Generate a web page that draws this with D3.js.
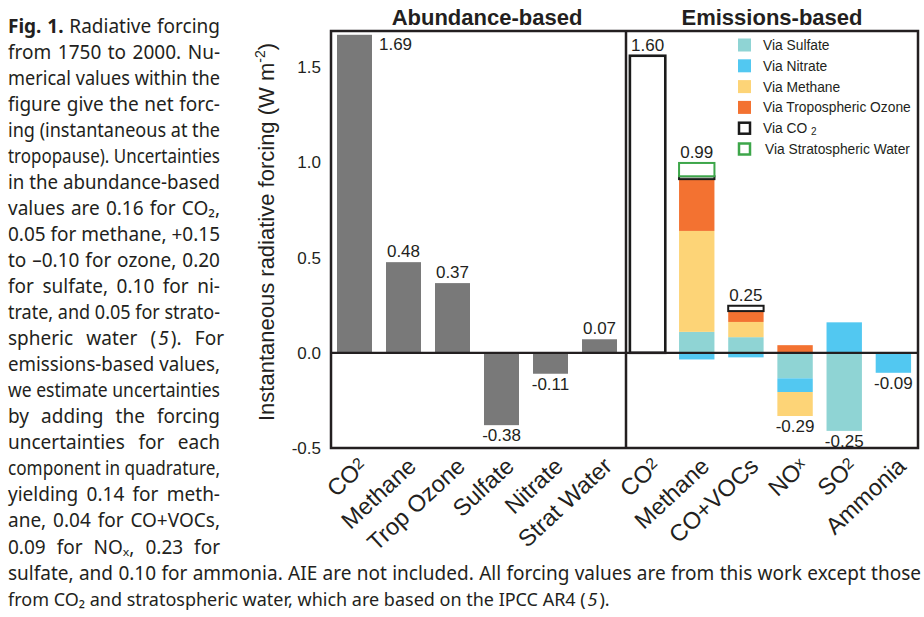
<!DOCTYPE html>
<html>
<head>
<meta charset="utf-8">
<script src="https://cdn.jsdelivr.net/npm/d3@7"></script>
<style>
    body{margin:0;background:#fff;}
    svg{display:block;}
</style>
</head>
<body>
<script>
(function(){

    //abundance-based forcing (W m-2)
    var abundCats = ["CO2", "Methane", "Trop Ozone", "Sulfate", "Nitrate", "Strat Water"];
    var abundValues = [1.67, 0.476, 0.366, -0.38, -0.11, 0.071];
    var abundLabels = ["1.69", "0.48", "0.37", "-0.38", "-0.11", "0.07"];

    //emissions-based forcing, one array per pathway
    var emitCats = ["CO2", "Methane", "CO+VOCs", "NOx", "SO2", "Ammonia"];
    var viaSulfate = [0, 0.11, 0.082, -0.134, -0.41, 0];
    var viaNitrate = [0, -0.035, -0.024, -0.072, 0.16, -0.105];
    var viaMethane = [0, 0.53, 0.08, -0.126, 0, 0];
    var viaOzone = [0, 0.272, 0.057, 0.04, 0, 0];
    var viaCO2 = [1.56, 0.015, 0.028, 0, 0, 0];
    var viaStratWater = [0, 0.07, 0, 0, 0, 0];
    var emitLabels = ["1.60", "0.99", "0.25", "-0.29", "-0.25", "-0.09"];

    var yTicks = [-0.5, 0, 0.5, 1.0, 1.5];

    //legend entries
    var seriesKeys = ["sulfate", "nitrate", "methane", "ozone", "co2", "water"];
    var seriesNames = ["Via Sulfate", "Via Nitrate", "Via Methane", "Via Tropospheric Ozone", "Via CO2", "Via Stratospheric Water"];
    var seriesFill = ["#8fd4d4", "#52c8f1", "#fdd477", "#f37231", "#ffffff", "#ffffff"];
    var seriesStroke = [null, null, null, null, "#1a1a1a", "#3da64a"];

    //caption text, *bold*, _italic_
    var captionLines = [
        "*Fig. 1.* Radiative forcing",
        "from 1750 to 2000. Nu-",
        "merical values within the",
        "figure give the net forc-",
        "ing (instantaneous at the",
        "tropopause). Uncertainties",
        "in the abundance-based",
        "values are 0.16 for CO\u2082,",
        "0.05 for methane, +0.15",
        "to \u20130.10 for ozone, 0.20",
        "for sulfate, 0.10 for ni-",
        "trate, and 0.05 for strato-",
        "spheric water (_5_). For",
        "emissions-based values,",
        "we estimate uncertainties",
        "by adding the forcing",
        "uncertainties for each",
        "component in quadrature,",
        "yielding 0.14 for meth-",
        "ane, 0.04 for CO+VOCs,",
        "0.09 for NO\u2093, 0.23 for",
        "sulfate, and 0.10 for ammonia. AIE are not included. All forcing values are from this work except those",
        "from CO\u2082 and stratospheric water, which are based on the IPCC AR4 (_5_)."
    ];

window.onload = setChart;

function setChart(){

    var width = 924,
        height = 617;

    var svg = d3.select("body")
        .append("svg")
        .attr("width", width)
        .attr("height", height);

    //plot frame
    var left = 331, mid = 626, right = 918, top = 31, bottom = 448;

    var y = d3.scaleLinear()
        .domain([-0.5, 1.69])
        .range([bottom, top]);

    var xA = d3.scaleBand()
        .domain(abundCats)
        .range([left, mid])
        .paddingInner(0.286)
        .paddingOuter(0.153)
        .align(0.4);

    var xE = d3.scaleBand()
        .domain(emitCats)
        .range([mid, right])
        .paddingInner(0.28)
        .paddingOuter(0.11)
        .align(0.36);

    var numFont = "'Liberation Sans', Arial, Helvetica, sans-serif";
    var ink = "#231f20";

    //abundance bars
    svg.append("g")
        .selectAll("rect")
        .data(abundValues)
        .enter()
        .append("rect")
        .attr("x", function(d, i){ return xA(abundCats[i]); })
        .attr("y", function(d){ return y(Math.max(0, d)); })
        .attr("width", xA.bandwidth())
        .attr("height", function(d){ return Math.abs(y(d) - y(0)); })
        .style("fill", "#797979");

    //abundance value labels (a bar that reaches the frame gets its label beside it)
    function besideTop(d){ return d > 0 && y(d) - 18 < top; }

    svg.append("g")
        .selectAll("text")
        .data(abundValues)
        .enter()
        .append("text")
        .attr("x", function(d, i){
            var x0 = xA(abundCats[i]);
            return besideTop(d) ? x0 + xA.bandwidth() + 7 : x0 + xA.bandwidth() / 2;
        })
        .attr("y", function(d){
            if (besideTop(d)) return y(d) + 15;
            return d >= 0 ? y(d) - 5 : y(d) + 16;
        })
        .attr("text-anchor", function(d){ return besideTop(d) ? "start" : "middle"; })
        .style("font-family", numFont)
        .style("font-size", "17px")
        .style("fill", ink)
        .text(function(d, i){ return abundLabels[i]; });

    //emissions bars, stacked by pathway
    var rows = emitCats.map(function(c, i){
        return {cat: c, sulfate: viaSulfate[i], nitrate: viaNitrate[i], methane: viaMethane[i],
                ozone: viaOzone[i], co2: viaCO2[i], water: viaStratWater[i]};
    });

    var stacked = d3.stack()
        .keys(seriesKeys)
        .offset(d3.stackOffsetDiverging)(rows);

    var layers = svg.append("g")
        .selectAll("g")
        .data(stacked)
        .enter()
        .append("g")
        .style("fill", function(d, i){ return seriesFill[i]; })
        .style("stroke", function(d, i){ return seriesStroke[i] || "none"; });

    layers.selectAll("rect")
        .data(function(d){ return d.filter(function(s){ return s[1] - s[0] !== 0; }); })
        .enter()
        .append("rect")
        .attr("x", function(d){ return xE(d.data.cat); })
        .attr("y", function(d){ return y(d[1]); })
        .attr("width", xE.bandwidth())
        .attr("height", function(d){ return y(d[0]) - y(d[1]); })
        .style("stroke-width", function(d){ return d[1] - d[0] > 1 ? 2.6 : 2; });

    //emissions net labels
    svg.append("g")
        .selectAll("text")
        .data(rows)
        .enter()
        .append("text")
        .attr("x", function(d){ return xE(d.cat) + xE.bandwidth() / 2; })
        .attr("y", function(d){
            var pos = 0, neg = 0;
            seriesKeys.forEach(function(k){ if (d[k] > 0) pos += d[k]; else neg += d[k]; });
            return (pos + neg) >= 0 ? y(pos) - 5 : y(neg) + 16;
        })
        .attr("text-anchor", "middle")
        .style("font-family", numFont)
        .style("font-size", "17px")
        .style("fill", ink)
        .text(function(d, i){ return emitLabels[i]; });

    //frame, divider and zero line
    svg.append("rect")
        .attr("x", left)
        .attr("y", top)
        .attr("width", right - left)
        .attr("height", bottom - top)
        .style("fill", "none")
        .style("stroke", ink)
        .style("stroke-width", 2.5);

    svg.append("line")
        .attr("x1", mid).attr("x2", mid)
        .attr("y1", top).attr("y2", bottom)
        .style("stroke", ink)
        .style("stroke-width", 2.5);

    svg.append("line")
        .attr("x1", left).attr("x2", right)
        .attr("y1", y(0)).attr("y2", y(0))
        .style("stroke", ink)
        .style("stroke-width", 2.2);

    //y axis
    var yAxis = d3.axisLeft(y)
        .tickValues(yTicks)
        .tickSize(0)
        .tickPadding(10)
        .tickFormat(function(d){ return d3.format(".1f")(d).replace("\u2212", "-"); });

    var axisG = svg.append("g")
        .attr("transform", "translate(" + left + ",0)")
        .call(yAxis);
    axisG.select(".domain").remove();
    axisG.selectAll("text")
        .style("font-family", numFont)
        .style("font-size", "17px")
        .style("fill", ink);

    //y axis title
    var yTitle = svg.append("text")
        .attr("transform", "translate(274,232) rotate(-90)")
        .attr("text-anchor", "middle")
        .style("font-family", numFont)
        .style("font-size", "22px")
        .style("fill", ink);
    yTitle.append("tspan").text("Instantaneous radiative forcing (W m");
    yTitle.append("tspan").attr("dy", -9).style("font-size", "14px").text("-2");
    yTitle.append("tspan").attr("dy", 9).text(")");

    //panel titles
    var panelTitles = [["Abundance-based", 487], ["Emissions-based", 772]];
    svg.append("g")
        .selectAll("text")
        .data(panelTitles)
        .enter()
        .append("text")
        .attr("x", function(d){ return d[1]; })
        .attr("y", 25)
        .attr("text-anchor", "middle")
        .style("font-family", numFont)
        .style("font-weight", "bold")
        .style("font-size", "22px")
        .style("fill", ink)
        .text(function(d){ return d[0]; });

    //rotated category labels
    function chemLabel(sel, str, subSize, subDy){
        var m = str.match(/^(.*(?:CO|SO|NO))(2|x)$/);
        if (m){
            sel.append("tspan").text(m[1]);
            sel.append("tspan").attr("dy", subDy).style("font-size", subSize).text(m[2]);
        } else {
            sel.text(str);
        }
    }

    function catLabels(scale, cats){
        svg.append("g")
            .selectAll("text")
            .data(cats)
            .enter()
            .append("text")
            .attr("transform", function(d){
                return "translate(" + (scale(d) + scale.bandwidth() / 2 + 14) + ",468) rotate(-43)";
            })
            .attr("text-anchor", "end")
            .style("font-family", numFont)
            .style("font-size", "23.5px")
            .style("fill", ink)
            .each(function(d){ chemLabel(d3.select(this), d, "16px", -5); });
    }
    catLabels(xA, abundCats);
    catLabels(xE, emitCats);

    //legend
    var legend = svg.append("g")
        .selectAll("g")
        .data(seriesNames)
        .enter()
        .append("g")
        .attr("transform", function(d, i){ return "translate(738," + (45 + i * 20.8) + ")"; });

    legend.append("rect")
        .attr("x", function(d, i){ return seriesStroke[i] ? 1 : 0; })
        .attr("y", function(d, i){ return seriesStroke[i] ? -5.5 : -6.5; })
        .attr("width", function(d, i){ return seriesStroke[i] ? 11 : 13; })
        .attr("height", function(d, i){ return seriesStroke[i] ? 11 : 13; })
        .style("fill", function(d, i){ return seriesFill[i]; })
        .style("stroke", function(d, i){ return seriesStroke[i] || "none"; })
        .style("stroke-width", 2.5);

    legend.append("text")
        .attr("x", function(d, i){ return i === 5 ? 27 : 25; })
        .attr("y", 5)
        .style("font-family", numFont)
        .style("font-size", "13.8px")
        .style("fill", ink)
        .each(function(d){
            var sel = d3.select(this);
            if (d === "Via CO2"){
                sel.append("tspan").text("Via CO ");
                sel.append("tspan").attr("dy", 2).style("font-size", "10px").text("2");
            } else {
                sel.text(d);
            }
        });

    //caption, justified by widening word gaps or squeezing glyphs
    var capFont = "'Noto Sans', 'Open Sans', sans-serif";
    var cap = svg.append("g")
        .style("font-family", capFont)
        .style("font-size", "19px")
        .style("fill", ink);

    captionLines.forEach(function(line, i){
        var last = i === captionLines.length - 1;
        var t = cap.append("text")
            .attr("x", 8)
            .attr("y", 32.5 + i * 26.05);

        var parts = line.split(/(\*[^*]+\*|_[^_]+_)/);
        parts.forEach(function(p){
            if (!p) return;
            var ts = t.append("tspan");
            if (p[0] === "*"){
                ts.style("font-weight", "bold").text(p.slice(1, -1));
            } else if (p[0] === "_"){
                ts.attr("dx", 2).style("font-style", "italic").text(p.slice(1, -1));
            } else {
                ts.attr("dx", p[0] === ")" ? 2 : null).text(p);
            }
        });

        var natural = t.node().getComputedTextLength();

        //the closing line stays ragged, just squeezed like the rest
        if (last){
            var k = Math.min(1, 598 / natural);
            t.attr("x", 0).attr("y", 0)
                .attr("transform", "translate(8," + (32.5 + i * 26.05) + ") scale(" + k + ",1)");
            return;
        }

        var target = i < 21 ? 212 : 913;
        var gaps = (line.match(/ /g) || []).length;
        if (natural > target){
            t.attr("textLength", target).attr("lengthAdjust", "spacingAndGlyphs");
        } else if (gaps > 0){
            t.style("word-spacing", ((target - natural) / gaps) + "px");
        }
    });
};

})();
</script>
</body>
</html>
